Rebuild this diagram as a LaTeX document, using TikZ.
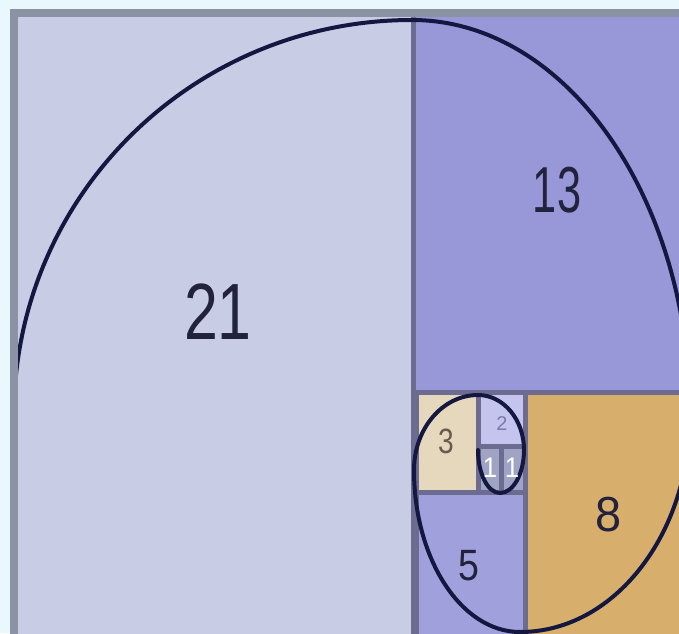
\documentclass[tikz,border=0pt]{standalone}
\usepackage{fontspec}
\setmainfont{Liberation Sans}
\usepackage{xcolor}
\usepackage{tikz}
\definecolor{backdrop}{HTML}{E8F8FC}
\definecolor{framegray}{HTML}{8A92A4}
\definecolor{gridline}{HTML}{6C6C90}
\definecolor{coil}{HTML}{141840}
\definecolor{ink}{HTML}{22223C}
\definecolor{fill21}{HTML}{C8CCE4}
\definecolor{fill13}{HTML}{9898D8}
\definecolor{fill8}{HTML}{D8AE6C}
\definecolor{fill5}{HTML}{A0A0DC}
\definecolor{fill3}{HTML}{E6D8BC}
\definecolor{fill2}{HTML}{C4C4EE}
\definecolor{fill1}{HTML}{A0A4C4}

\begin{document}
\begin{tikzpicture}[
    x=0.3mm, y=0.3mm,
    square/.style={draw=gridline, line width=1.5mm},
    number/.style={text=ink, inner sep=0pt},
    spiral/.style={draw=coil, line width=1.2mm, line cap=round},
]

\useasboundingbox (0,0) rectangle (679,633);
\fill[backdrop] (0,0) rectangle (679,633);

\begin{scope}
\clip (0,0) rectangle (679,633);

% Squares
\filldraw[square, fill=fill21] (14,-20) rectangle (413,620);
\filldraw[square, fill=fill13] (413,241) rectangle (700,620);
\filldraw[square, fill=fill8] (525,-20) rectangle (700,241);
\filldraw[square, fill=fill5] (416,-20) rectangle (525,141);
\filldraw[square, fill=fill3] (416,141) rectangle (478,241);
\filldraw[square, fill=fill2] (478,187) rectangle (525,241);
\filldraw[square, fill=fill1] (478,141) rectangle (501,187);
\filldraw[square, fill=fill1] (501,141) rectangle (525,187);

% Spiral
\begin{scope}
\clip (14,-20) rectangle (700,620);
\draw[spiral] (14,218) arc[start angle=180, end angle=90, x radius=398, y radius=395]
    arc[start angle=90, end angle=0, x radius=278, y radius=395]
    arc[start angle=0, end angle=-90, x radius=170, y radius=217]
    arc[start angle=-90, end angle=-180, x radius=106, y radius=162]
    arc[start angle=180, end angle=90, x radius=64, y radius=75]
    arc[start angle=90, end angle=0, x radius=46, y radius=55]
    arc[start angle=0, end angle=-90, x radius=24, y radius=43]
    arc[start angle=-90, end angle=-180, x radius=22, y radius=43];
\end{scope}

% Frame
\draw[framegray, line width=2.4mm] (14,-20) -- (14,620) -- (700,620);
\end{scope}

% Labels
\node[number, font=\fontsize{52}{52}\selectfont] (n21) at (218,321) {\scalebox{1}[1.31]{21}};
\node[number, font=\fontsize{37}{37}\selectfont] (n13) at (557,443) {\scalebox{1}[1.5]{13}};
\node[number, font=\fontsize{40}{40}\selectfont] (n8) at (609,118) {\scalebox{1}[1.05]{8}};
\node[number, font=\fontsize{32}{32}\selectfont] (n5) at (469,67) {\scalebox{1}[1.17]{5}};
\node[number, font=\fontsize{24}{24}\selectfont, text=ink!60!fill8] (n3) at (446,192) {\scalebox{1}[1.25]{3}};
\node[number, font=\fontsize{17}{17}\selectfont, text=fill5!70!ink] (n2) at (502,209) {2};
\node[number, font=\fontsize{22}{22}\selectfont, text=white] (n1a) at (490,165) {\scalebox{1}[1.1]{1}};
\node[number, font=\fontsize{22}{22}\selectfont, text=white] (n1b) at (512,165) {\scalebox{1}[1.1]{1}};

\end{tikzpicture}
\end{document}
